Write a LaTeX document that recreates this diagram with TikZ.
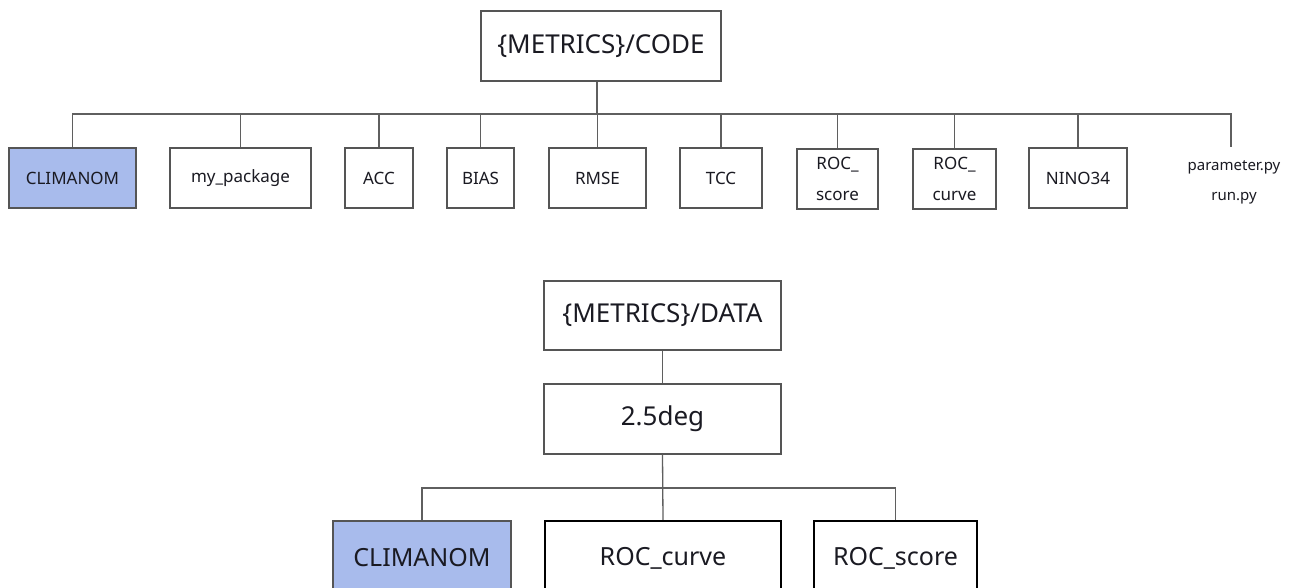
\documentclass[tikz,border=0pt]{standalone}
\usepackage{fontspec}
\setmainfont{Noto Sans}
\definecolor{linegray}{HTML}{5F5F5F}
\definecolor{boxgray}{HTML}{555555}
\definecolor{climblue}{HTML}{A8BBEC}
\definecolor{txt}{HTML}{1A1A22}
\begin{document}
\begin{tikzpicture}[x=1pt,y=-1pt,
  box/.style={draw=boxgray,line width=1.2pt,inner sep=0pt,text=txt,font=\fontsize{17}{20}\selectfont,align=center},
  twoline/.style={font=\fontsize{17}{31}\selectfont},
  bigbox/.style={draw=boxgray,line width=1.2pt,inner sep=0pt,text=txt,font=\fontsize{26}{30}\selectfont,align=center},
  thickbox/.style={draw=black,line width=2.4pt,inner sep=0pt,text=txt,font=\fontsize{25}{30}\selectfont,align=center},
  conn/.style={draw=linegray,line width=1.3pt}]
\useasboundingbox (0,0) rectangle (1304,588);
\clip (0,0) rectangle (1304,588);
\fill[white] (0,0) rectangle (1304,588);
% top tree
\node[bigbox,minimum width=240pt,minimum height=70pt] (code) at (601,46) {\{METRICS\}/CODE};
\coordinate (bus) at (597,114);
\node[box,fill=climblue,minimum width=127pt,minimum height=60pt] (c1) at (72.5,178) {CLIMANOM};
\node[box,minimum width=141pt,minimum height=60pt] (c2) at (240.5,178) {my\_package};
\node[box,minimum width=68pt,minimum height=60pt] (c3) at (379,178) {ACC};
\node[box,minimum width=67pt,minimum height=60pt] (c4) at (480.5,178) {BIAS};
\node[box,minimum width=97pt,minimum height=60pt] (c5) at (597.5,178) {RMSE};
\node[box,minimum width=82pt,minimum height=60pt] (c6) at (721,178) {TCC};
\node[box,twoline,minimum width=81pt,minimum height=60pt] (c7) at (837.5,179) {ROC\_\\score};
\node[box,twoline,minimum width=83pt,minimum height=60pt] (c8) at (954.5,179) {ROC\_\\curve};
\node[box,minimum width=98pt,minimum height=60pt] (c9) at (1078,178) {NINO34};
\node[inner sep=0pt,text=txt,font=\fontsize{15}{30}\selectfont,align=center] (c10) at (1234,182) {parameter.py\\run.py};
\coordinate (c10top) at (1231,147);
\draw[conn] (code.south -| bus) -- (bus);
\draw[conn] (c1.north) |- (c10top |- bus) -- (c10top);
\foreach \n in {c2,c3,c4,c5,c6,c7,c8,c9} {\draw[conn] (\n.north) -- (\n.north |- bus);}
% bottom tree
\node[bigbox,minimum width=237pt,minimum height=69pt] (data) at (662.5,315.5) {\{METRICS\}/DATA};
\node[bigbox,minimum width=237pt,minimum height=70pt] (deg) at (662.5,419) {2.5deg};
\coordinate (bus2) at (663,488);
\node[bigbox,fill=climblue,minimum width=178pt,minimum height=74pt,font=\fontsize{25}{30}\selectfont] (d1) at (422,558) {CLIMANOM};
\node[thickbox,minimum width=236pt,minimum height=74pt] (d2) at (663,558) {ROC\_curve};
\node[thickbox,minimum width=163pt,minimum height=74pt] (d3) at (895.5,558) {ROC\_score};
\draw[conn] (data) -- (deg);
\draw[conn] (deg.south) -- (d2.north);
\draw[conn] (d1.north) |- (d3.north |- bus2) -- (d3.north);
\end{tikzpicture}
\end{document}
